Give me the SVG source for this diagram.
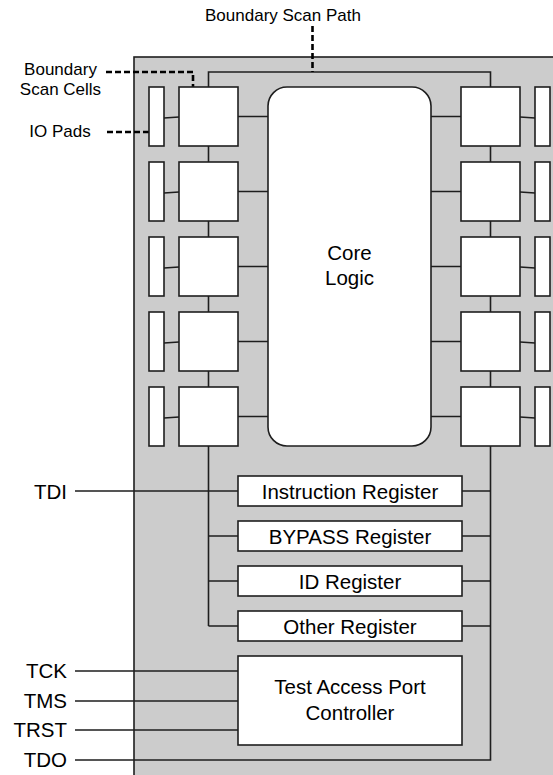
<svg xmlns="http://www.w3.org/2000/svg" width="553" height="775" viewBox="0 0 553 775">
<style>
.ln{stroke:#1e1e1e;stroke-width:1.6;fill:none}
.bx{fill:#fff;stroke:#1e1e1e;stroke-width:1.6}
.dash{stroke:#000;stroke-width:2.6;fill:none;stroke-dasharray:6 3}
.t{font-family:"Liberation Sans",Arial,sans-serif;fill:#000}
.big{font-size:20.5px}
.sm{font-size:17px}
</style>
<rect x="134" y="57" width="430" height="730" fill="#cccccc" stroke="#1e1e1e" stroke-width="1.6"/>
<g id="connectors">
<path class="ln" d="M208.5 626 V72 H490.5 V760 H75"/>
<path class="ln" d="M164 118 L179 117 M238 116.5 H268 M431 116.5 H461 M520 117 L535 118"/>
<path class="ln" d="M164 193 L179 192 M238 191.5 H268 M431 191.5 H461 M520 192 L535 193"/>
<path class="ln" d="M164 268 L179 267 M238 266.5 H268 M431 266.5 H461 M520 267 L535 268"/>
<path class="ln" d="M164 343 L179 342 M238 341.5 H268 M431 341.5 H461 M520 342 L535 343"/>
<path class="ln" d="M164 418 L179 417 M238 416.5 H268 M431 416.5 H461 M520 417 L535 418"/>
<path class="ln" d="M75 491 H238 M462 491 H490.5 M208.5 536 H238 M462 536 H490.5 M208.5 581 H238 M462 581 H490.5 M208.5 626 H238 M462 626 H490.5"/>
<path class="ln" d="M75 671 H238 M75 701 H238 M75 730 H238"/>
<path class="dash" d="M312.5 26 V72"/>
<path class="dash" d="M106 72 H193 V87"/>
<path class="dash" d="M107 132 H149"/>
</g>
<g id="labels">
<text class="t sm" x="283" y="20.5" text-anchor="middle">Boundary Scan Path</text>
<text class="t sm" x="60.5" y="75" text-anchor="middle">Boundary</text>
<text class="t sm" x="60.5" y="94.5" text-anchor="middle">Scan Cells</text>
<text class="t sm" x="60" y="137" text-anchor="middle">IO Pads</text>
<text class="t big" x="67" y="498.5" text-anchor="end">TDI</text>
<text class="t big" x="67" y="678" text-anchor="end">TCK</text>
<text class="t big" x="67" y="708" text-anchor="end">TMS</text>
<text class="t big" x="67" y="737" text-anchor="end">TRST</text>
<text class="t big" x="67" y="767" text-anchor="end">TDO</text>
</g>
<g id="pads-left">
<rect class="bx" x="149" y="87" width="15" height="59"/>
<rect class="bx" x="149" y="162" width="15" height="59"/>
<rect class="bx" x="149" y="237" width="15" height="59"/>
<rect class="bx" x="149" y="312" width="15" height="59"/>
<rect class="bx" x="149" y="387" width="15" height="59"/>
</g>
<g id="cells-left">
<rect class="bx" x="179" y="87" width="59" height="59"/>
<rect class="bx" x="179" y="162" width="59" height="59"/>
<rect class="bx" x="179" y="237" width="59" height="59"/>
<rect class="bx" x="179" y="312" width="59" height="59"/>
<rect class="bx" x="179" y="387" width="59" height="59"/>
</g>
<g id="core-logic">
<rect class="bx" x="268" y="87" width="163" height="359" rx="19" ry="19"/>
<text class="t big" x="349.5" y="260" text-anchor="middle">Core</text>
<text class="t big" x="349.5" y="285" text-anchor="middle">Logic</text>
</g>
<g id="cells-right">
<rect class="bx" x="461" y="87" width="59" height="59"/>
<rect class="bx" x="461" y="162" width="59" height="59"/>
<rect class="bx" x="461" y="237" width="59" height="59"/>
<rect class="bx" x="461" y="312" width="59" height="59"/>
<rect class="bx" x="461" y="387" width="59" height="59"/>
</g>
<g id="pads-right">
<rect class="bx" x="535" y="87" width="15" height="59"/>
<rect class="bx" x="535" y="162" width="15" height="59"/>
<rect class="bx" x="535" y="237" width="15" height="59"/>
<rect class="bx" x="535" y="312" width="15" height="59"/>
<rect class="bx" x="535" y="387" width="15" height="59"/>
</g>
<g id="instruction-register">
<rect class="bx" x="238" y="476" width="224" height="30"/>
<text class="t big" x="350" y="498.5" text-anchor="middle">Instruction Register</text>
</g>
<g id="bypass-register">
<rect class="bx" x="238" y="521" width="224" height="30"/>
<text class="t big" x="350" y="543.5" text-anchor="middle">BYPASS Register</text>
</g>
<g id="id-register">
<rect class="bx" x="238" y="566" width="224" height="30"/>
<text class="t big" x="350" y="588.5" text-anchor="middle">ID Register</text>
</g>
<g id="other-register">
<rect class="bx" x="238" y="611" width="224" height="30"/>
<text class="t big" x="350" y="633.5" text-anchor="middle">Other Register</text>
</g>
<g id="tap-controller">
<rect class="bx" x="238" y="656" width="224" height="89"/>
<text class="t big" x="350" y="694" text-anchor="middle">Test Access Port</text>
<text class="t big" x="350" y="720" text-anchor="middle">Controller</text>
</g>
</svg>
